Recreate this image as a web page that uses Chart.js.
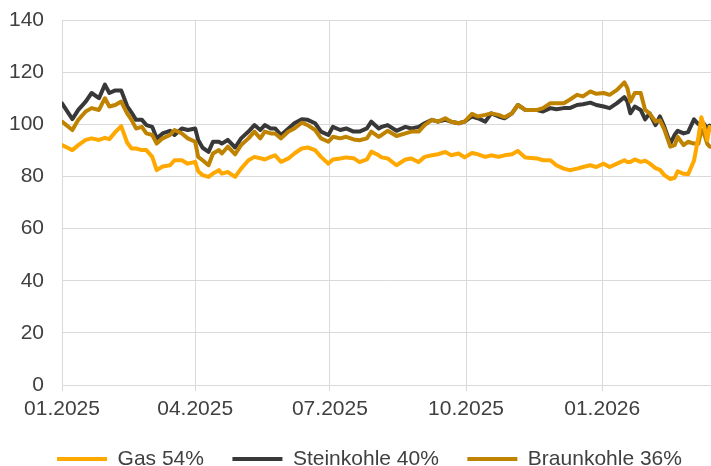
<!DOCTYPE html>
<html>
<head>
<meta charset="utf-8">
<script src="https://cdn.jsdelivr.net/npm/chart.js@4"></script>
<style>
  html, body { margin: 0; padding: 0; background: #fff; }
  #wrap { width: 711px; height: 466px; }
</style>
</head>
<body>
<div id="wrap"><canvas id="chart"></canvas></div>
<script>
// Tage seit 01.01.2025
const days = [
  0, 7, 11, 16, 20, 25, 29, 32, 36, 40, 44, 47, 50, 54, 57, 61, 64, 68, 73, 76,
  81, 85, 90, 92, 95, 99, 102, 106,
  108, 112, 117, 121, 126, 130, 134, 137, 141, 144, 148, 153, 157, 162, 166, 171, 175, 180, 183, 188,
  192, 197, 201, 206, 209, 214,
  216, 220, 226, 232, 236, 241, 245, 250, 254, 259, 263, 268, 272, 277, 281, 286, 290, 295, 299, 304,
  308, 313,
  321, 325, 330, 334, 339, 343, 348, 352, 357, 361, 366, 370, 375, 380, 382, 384, 387, 391, 394, 397,
  401, 404, 407, 411, 414, 416, 420, 423, 427, 430, 432, 434, 436, 437.5, 438.5
];

const gas = [
  92, 90.1, 92, 94, 94.6, 94, 94.8, 94.3, 97, 99.3, 93, 90.7, 90.7, 90.1, 90.1, 87.5, 82.4, 83.8, 84.3, 86.2,
  86.2, 84.9, 85.6, 82, 80.5, 79.8, 81.1, 82.4,
  81.1, 81.7, 79.8, 83, 86.2, 87.5, 87, 86.5, 87.5, 88.1, 85.6, 86.9, 88.8, 90.7, 91.1, 90.1, 87.5, 84.9, 86.5, 86.9,
  87.3, 87, 85.5, 86.5, 89.5, 88.1,
  87.3, 86.9, 84.3, 86.5, 86.9, 85.5, 87.5, 88.1, 88.5, 89.4, 88.1, 88.8, 87.3, 89, 88.5, 87.5, 88.1, 87.5, 88.1, 88.5,
  89.8, 87.3,
  86.9, 86.2, 86.2, 84.3, 83, 82.4, 83, 83.6, 84.3, 83.6, 84.9, 83.6, 84.9, 86.2, 85.5, 85.5, 86.5, 85.6, 86, 85,
  83.2, 82.5, 80.5, 79, 79.5, 82, 81, 80.8, 86, 95.2, 102.7, 99, 94, 99, 97.8
];

const steinkohle = [
  108, 102, 105.5, 108.7, 112, 110, 115.2, 112, 113, 113, 107, 104.5, 101.7, 101.7, 99.7, 99, 94.6, 96.5, 97.5, 95.9,
  98.4, 97.8, 98.4, 94, 91, 89.4, 93.3, 93.3,
  92.6, 94, 91.1, 94.6, 97.2, 99.7, 97.8, 99.7, 98.4, 98.4, 95.9, 98.4, 100.4, 101.9, 101.7, 100.4, 97.2, 95.9, 99, 97.8,
  98.4, 97.2, 97.2, 98.4, 101, 98.4,
  99, 99.7, 97.5, 99, 98.4, 99, 100.4, 101.7, 101, 101.7, 101, 100.4, 101, 103, 102.3, 101, 104.2, 103, 102.3, 104.2,
  107.4, 105.5,
  105.5, 104.9, 106.2, 105.8, 106.2, 106.2, 107.4, 107.7, 108.3, 107.4, 106.8, 106.2, 108.1, 110.4, 108.7, 104.2, 106.8, 105.5, 101.9, 104.2,
  99.7, 103, 99, 92.6, 96, 97.5, 96.5, 97, 101.9, 100, 101, 100, 98.4, 99.5, 99
];

const braunkohle = [
  101, 97.8, 101.7, 104.9, 106.2, 105.5, 110, 106.8, 107.4, 108.7, 104.2, 101.7, 98.4, 99, 96.5, 95.9, 92.6, 94.6, 95.9, 97.8,
  96.5, 94.6, 93.3, 87.5, 86.2, 84.3, 88.8, 90.1,
  88.8, 91.4, 88.5, 92, 94.6, 97.2, 94.6, 97.2, 96.5, 96.5, 94.6, 97.2, 98.4, 100.6, 99.7, 97.8, 94.6, 93.3, 95.2, 94.6,
  95.2, 94.2, 93.9, 94.6, 97.2, 95.2,
  95.9, 97.5, 95.5, 96.5, 97.2, 97.2, 99.7, 101.7, 101, 102.3, 101, 100.4, 101, 104, 103, 103.6, 104.2, 103.6, 102.7, 104.2,
  107.4, 105.5,
  105.5, 106.2, 108.1, 108.1, 108.1, 109.4, 111.3, 110.7, 112.6, 111.7, 112, 111.3, 113.2, 116.1, 113.9, 108.7, 112, 112, 105.5, 104.2,
  101, 101.5, 98, 91.4, 92, 95.2, 92, 93.3, 92.6, 92.6, 97.8, 96, 92.5, 91.5, 91.4
];

const seriesNames = ["Gas 54%", "Steinkohle 40%", "Braunkohle 36%"];
const tickDays = [0, 90, 181, 273, 365];
const tickLabels = ["01.2025", "04.2025", "07.2025", "10.2025", "01.2026"];

const FONT = "'Liberation Sans', Arial, sans-serif";
const TEXT = "#404040";
const GRID = "#d9d9d9";

function points(values) {
  return values.map((v, i) => ({ x: days[i], y: v }));
}

// Legende: kompakte Höhe, etwas nach rechts versetzt
const legendFit = {
  id: "legendFit",
  beforeInit(chart) {
    const fit = chart.legend.fit;
    chart.legend.fit = function () {
      fit.bind(chart.legend)();
      this.height = 46;
    };
  },
  afterLayout(chart) {
    chart.legend.left += 14;
    chart.legend.right += 14;
  },
};

const ctx = document.getElementById("chart");
new Chart(ctx, {
  type: "line",
  data: {
    datasets: [
      { label: seriesNames[0], data: points(gas), borderColor: "#FFA800", backgroundColor: "#FFA800", pointBorderWidth: 4, order: 0 },
      { label: seriesNames[1], data: points(steinkohle), borderColor: "#383838", backgroundColor: "#383838", pointBorderWidth: 4, order: 2 },
      { label: seriesNames[2], data: points(braunkohle), borderColor: "#C08300", backgroundColor: "#C08300", pointBorderWidth: 4, order: 1 },
    ],
  },
  options: {
    responsive: true,
    maintainAspectRatio: false,
    animation: false,
    layout: { padding: { top: 20, left: 0, right: 0, bottom: 0 } },
    elements: {
      line: { borderWidth: 4, tension: 0, borderJoinStyle: "round", borderCapStyle: "round" },
      point: { radius: 0 },
    },
    scales: {
      x: {
        type: "linear",
        min: 0,
        max: 438.5,
        afterBuildTicks: (scale) => {
          scale.ticks = tickDays.map((d) => ({ value: d }));
        },
        afterFit: (scale) => {
          scale.height = 35;
        },
        ticks: {
          autoSkip: false,
          maxRotation: 0,
          padding: 6,
          color: TEXT,
          font: { family: FONT, size: 21 },
          callback: (v) => tickLabels[tickDays.indexOf(v)],
        },
        grid: { color: GRID, lineWidth: 1, tickLength: 6, drawTicks: true },
        border: { color: GRID },
      },
      y: {
        min: 0,
        max: 140,
        afterFit: (scale) => {
          scale.width = 62;
          scale.paddingTop = 12;
          scale.paddingBottom = 12;
        },
        ticks: {
          stepSize: 20,
          padding: 18,
          color: TEXT,
          font: { family: FONT, size: 21 },
        },
        grid: { color: GRID, lineWidth: 1, drawTicks: false },
        border: { display: false },
      },
    },
    plugins: {
      legend: {
        position: "bottom",
        labels: {
          usePointStyle: true,
          pointStyle: "line",
          pointStyleWidth: 50,
          boxHeight: 4,
          padding: 28.5,
          color: TEXT,
          font: { family: FONT, size: 21 },
          sort: (a, b) => a.datasetIndex - b.datasetIndex,
        },
      },
      tooltip: { enabled: false },
    },
  },
  plugins: [legendFit],
});
</script>
</body>
</html>
